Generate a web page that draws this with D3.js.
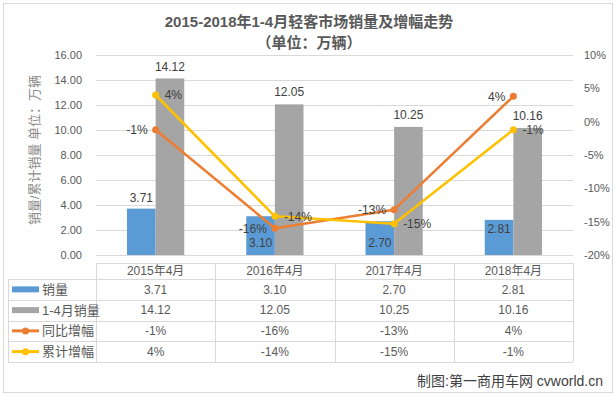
<!DOCTYPE html>
<html>
<head>
<meta charset="utf-8">
<script src="https://cdn.jsdelivr.net/npm/d3@7"></script>
<style>
  body { margin: 0; background: #fff; }
  text { font-family: "Liberation Sans", "Noto Sans CJK SC", sans-serif; }
</style>
</head>
<body>
<div id="chart"></div>
<script>
// Data
const categories = ["2015年4月", "2016年4月", "2017年4月", "2018年4月"];
const salesApril = [3.71, 3.10, 2.70, 2.81];
const salesJanApr = [14.12, 12.05, 10.25, 10.16];
const yoyGrowth = [-1.2, -16.0, -13.2, 3.8];
const cumGrowth = [4.0, -14.2, -15.3, -1.2];
const leftTicks = [0, 2, 4, 6, 8, 10, 12, 14, 16];
const rightTicks = [-20, -15, -10, -5, 0, 5, 10];
const seriesNames = ["销量", "1-4月销量", "同比增幅", "累计增幅"];

// where Excel put the blue labels
const blueLabelPos = ["out", "base", "base", "in"];

const colors = {blue: "#5b9bd5", grey: "#a5a5a5", orange: "#ed7d31", yellow: "#ffc000"};
const textColor = "#595959";
const gridColor = "#d9d9d9";

const W = 616, H = 395;
const plot = {left: 96, right: 573, top: 55, bottom: 255};

const svg = d3.select("#chart").append("svg")
    .attr("width", W)
    .attr("height", H);

svg.append("rect").attr("width", W).attr("height", H).attr("fill", "#fff");

// chart area border
svg.append("rect")
    .attr("x", 3.5).attr("y", 3.5)
    .attr("width", 609).attr("height", 389)
    .attr("fill", "none")
    .attr("stroke", gridColor);

// Scales
const x = d3.scaleBand().domain(categories).range([plot.left, plot.right]);
const barW = x.bandwidth() * 0.24;
const y = d3.scaleLinear().domain([0, 16]).range([plot.bottom, plot.top]);
const y2 = d3.scaleLinear().domain([-20, 10]).range([plot.bottom, plot.top]);
const cx = c => x(c) + x.bandwidth() / 2;

// Title
svg.append("text")
    .attr("x", 309).attr("y", 27)
    .attr("text-anchor", "middle")
    .attr("font-size", 15).attr("font-weight", "bold")
    .attr("fill", textColor)
    .text("2015-2018年1-4月轻客市场销量及增幅走势");
svg.append("text")
    .attr("x", 309).attr("y", 48)
    .attr("text-anchor", "middle")
    .attr("font-size", 15).attr("font-weight", "bold")
    .attr("fill", textColor)
    .text("（单位：万辆）");

// Gridlines
svg.append("g")
    .selectAll("line")
    .data(leftTicks)
    .join("line")
    .attr("x1", plot.left).attr("x2", plot.right)
    .attr("y1", d => Math.round(y(d)) + 0.5)
    .attr("y2", d => Math.round(y(d)) + 0.5)
    .attr("stroke", gridColor);

// Left axis
const leftAxis = svg.append("g")
    .attr("transform", `translate(${plot.left - 14},0)`)
    .call(d3.axisLeft(y).tickValues(leftTicks).tickFormat(d3.format(".2f")).tickSize(0).tickPadding(0));
leftAxis.select(".domain").remove();
leftAxis.selectAll("text").attr("font-size", 11).attr("fill", textColor)
    .attr("font-family", "Liberation Sans, sans-serif");

// Right axis
const rightAxis = svg.append("g")
    .attr("transform", `translate(${plot.right + 11},0)`)
    .call(d3.axisRight(y2).tickValues(rightTicks).tickFormat(d => d + "%").tickSize(0).tickPadding(0));
rightAxis.select(".domain").remove();
rightAxis.selectAll("text").attr("font-size", 11).attr("fill", textColor)
    .attr("font-family", "Liberation Sans, sans-serif");

// Left axis title
svg.append("text")
    .attr("transform", "translate(39,150) rotate(-90)")
    .attr("text-anchor", "middle")
    .attr("font-size", 13)
    .attr("fill", "#8c8c8c")
    .text("销量/累计销量 单位：万辆");

// Bars
const bars = svg.append("g");
bars.selectAll(".blue")
    .data(categories)
    .join("rect")
    .attr("x", c => cx(c) - barW)
    .attr("y", (c, i) => y(salesApril[i]))
    .attr("width", barW)
    .attr("height", (c, i) => y(0) - y(salesApril[i]))
    .attr("fill", colors.blue);
bars.selectAll(".grey")
    .data(categories)
    .join("rect")
    .attr("x", c => cx(c))
    .attr("y", (c, i) => y(salesJanApr[i]))
    .attr("width", barW)
    .attr("height", (c, i) => y(0) - y(salesJanApr[i]))
    .attr("fill", colors.grey);

// Axis line
svg.append("line")
    .attr("x1", plot.left).attr("x2", plot.right)
    .attr("y1", plot.bottom + 0.5).attr("y2", plot.bottom + 0.5)
    .attr("stroke", gridColor);

// Lines
const line = d3.line().x(d => d[0]).y(d => d[1]);
function drawLine(values, color) {
    const pts = categories.map((c, i) => [cx(c), y2(values[i])]);
    svg.append("path")
        .attr("d", line(pts))
        .attr("fill", "none")
        .attr("stroke", color)
        .attr("stroke-width", 2.5)
        .attr("stroke-linejoin", "round");
    svg.append("g").selectAll("circle")
        .data(pts)
        .join("circle")
        .attr("cx", d => d[0]).attr("cy", d => d[1])
        .attr("r", 3.5)
        .attr("fill", color);
}
drawLine(yoyGrowth, colors.orange);
drawLine(cumGrowth, colors.yellow);

// Data labels
const labels = svg.append("g")
    .attr("font-size", 12)
    .attr("fill", "#404040");

labels.selectAll(".lb")
    .data(categories)
    .join("text")
    .attr("x", c => cx(c) - barW / 2)
    .attr("y", (c, i) => {
        const pos = blueLabelPos[i];
        if (pos === "out") return y(salesApril[i]) - 7;
        if (pos === "in") return y(salesApril[i]) + 13;
        return y(0) - 8;
    })
    .attr("text-anchor", "middle")
    .text((c, i) => salesApril[i].toFixed(2));

labels.selectAll(".lg")
    .data(categories)
    .join("text")
    .attr("x", c => cx(c) + barW / 2)
    .attr("y", (c, i) => y(salesJanApr[i]) - 8)
    .attr("text-anchor", "middle")
    .text((c, i) => salesJanApr[i].toFixed(2));

labels.selectAll(".lo")
    .data(categories)
    .join("text")
    .attr("x", c => cx(c) - 8)
    .attr("y", (c, i) => y2(yoyGrowth[i]))
    .attr("dy", "0.35em")
    .attr("text-anchor", "end")
    .text((c, i) => Math.round(yoyGrowth[i]) + "%");

labels.selectAll(".ly")
    .data(categories)
    .join("text")
    .attr("x", c => cx(c) + 9)
    .attr("y", (c, i) => y2(cumGrowth[i]))
    .attr("dy", "0.35em")
    .attr("text-anchor", "start")
    .text((c, i) => Math.round(cumGrowth[i]) + "%");

// Data table
const table = svg.append("g");
const rowTop = 263, headerH = 16, rowH = 20.75, legendLeft = 8;
const rowY = i => rowTop + headerH + i * rowH;

// horizontal rules
table.append("line")
    .attr("x1", plot.left).attr("x2", plot.right)
    .attr("y1", rowTop + 0.5).attr("y2", rowTop + 0.5)
    .attr("stroke", gridColor);
table.selectAll(".hr")
    .data(d3.range(seriesNames.length + 1))
    .join("line")
    .attr("x1", legendLeft).attr("x2", plot.right)
    .attr("y1", i => Math.round(rowY(i)) + 0.5)
    .attr("y2", i => Math.round(rowY(i)) + 0.5)
    .attr("stroke", gridColor);
// vertical rules
table.append("line")
    .attr("x1", legendLeft + 0.5).attr("x2", legendLeft + 0.5)
    .attr("y1", rowY(0)).attr("y2", rowY(seriesNames.length))
    .attr("stroke", gridColor);
table.selectAll(".vr")
    .data(categories.map(c => x(c)).concat([plot.right]))
    .join("line")
    .attr("x1", d => Math.round(d) + 0.5).attr("x2", d => Math.round(d) + 0.5)
    .attr("y1", rowTop).attr("y2", rowY(seriesNames.length))
    .attr("stroke", gridColor);

// header
table.selectAll(".hd")
    .data(categories)
    .join("text")
    .attr("x", c => cx(c))
    .attr("y", rowTop + headerH / 2)
    .attr("dy", "0.35em")
    .attr("text-anchor", "middle")
    .attr("font-size", 12)
    .attr("fill", textColor)
    .attr("font-family", "Liberation Sans, Noto Sans CJK SC, sans-serif")
    .text(c => c);

const rows = [
    salesApril.map(v => v.toFixed(2)),
    salesJanApr.map(v => v.toFixed(2)),
    yoyGrowth.map(v => Math.round(v) + "%"),
    cumGrowth.map(v => Math.round(v) + "%")
];
const rowColors = [colors.blue, colors.grey, colors.orange, colors.yellow];

rows.forEach((vals, r) => {
    const yc = rowY(r) + rowH / 2;
    table.selectAll(".cell" + r)
        .data(vals)
        .join("text")
        .attr("x", (v, i) => cx(categories[i]))
        .attr("y", yc)
        .attr("dy", "0.35em")
        .attr("text-anchor", "middle")
        .attr("font-size", 12)
        .attr("fill", textColor)
        .text(v => v);

    // legend key
    table.append("line")
        .attr("x1", 12).attr("x2", 39)
        .attr("y1", yc).attr("y2", yc)
        .attr("stroke", rowColors[r])
        .attr("stroke-width", r < 2 ? 6 : 3);
    if (r >= 2) {
        table.append("circle")
            .attr("cx", 25.5).attr("cy", yc).attr("r", 3.5)
            .attr("fill", rowColors[r]);
    }
    table.append("text")
        .attr("x", 42).attr("y", yc)
        .attr("dy", "0.35em")
        .attr("font-size", 13)
        .attr("fill", textColor)
        .text(seriesNames[r]);
});

// Source note
svg.append("text")
    .attr("x", 603).attr("y", 381)
    .attr("dy", "0.35em")
    .attr("text-anchor", "end")
    .attr("font-size", 14)
    .attr("fill", "#404040")
    .text("制图:第一商用车网 cvworld.cn");
</script>
</body>
</html>
